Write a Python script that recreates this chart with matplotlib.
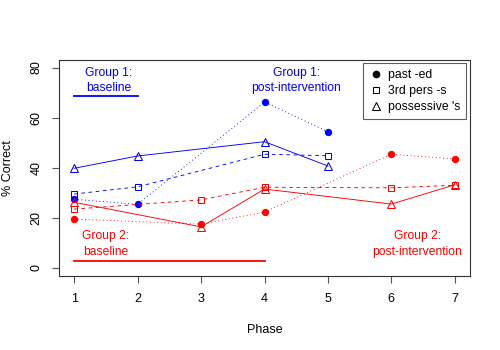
import numpy as np
import matplotlib
matplotlib.use("Agg")
import matplotlib.pyplot as plt
from matplotlib.lines import Line2D

plt.rcParams['font.family'] = ['Liberation Sans', 'DejaVu Sans']

# Data
g1_phase = [1, 2, 4, 5]
g1_past_ed = [27.4, 25.4, 66.2, 54.4]
g1_third = [29.5, 32.4, 45.4, 44.8]
g1_poss = [39.8, 44.7, 50.4, 40.7]

g2_phase = [1, 3, 4, 6, 7]
g2_past_ed = [19.5, 17.5, 22.3, 45.4, 43.5]
g2_third = [23.5, 27.2, 32.2, 32.0, 33.0]
g2_poss = [26.2, 16.4, 31.5, 25.5, 33.2]

x_ticks = [1, 2, 3, 4, 5, 6, 7]
y_ticks = [0, 20, 40, 60, 80]
legend_labels = ["past -ed", "3rd pers -s", "possessive 's"]

fig = plt.figure(figsize=(5, 3.5), dpi=100)
ax = fig.add_axes([59/500, (350-276)/350, (470-59)/500, (276-59.5)/350])

lw = 0.65
mew = 0.75
dash = (0, (4, 4))
dot = (0, (1, 3))

def series(x, y, color, ls, marker, filled, ms):
    ax.plot(x, y, color=color, lw=lw, linestyle=ls, marker=marker, ms=ms,
            mfc=color if filled else 'none', mec=color, mew=mew)

for col, ph, pe, th, po in [("blue", g1_phase, g1_past_ed, g1_third, g1_poss),
                            ("red", g2_phase, g2_past_ed, g2_third, g2_poss)]:
    series(ph, pe, col, dot, 'o', True, 4.5)
    series(ph, th, col, dash, 's', False, 5)
    series(ph, po, col, '-', '^', False, 6)

ax.set_xlim(0.76, 7.24)
ax.set_ylim(-3.2, 83.2)
ax.set_xticks(x_ticks)
ax.set_yticks(y_ticks)
ax.set_yticklabels([str(v) for v in y_ticks], rotation=90, va='center')
ax.tick_params(direction='out', length=5, width=0.8, color='#555555', labelsize=9, pad=7)
for s in ax.spines.values():
    s.set_color('#333333')
    s.set_linewidth(0.8)
ax.set_xlabel("Phase", fontsize=9, labelpad=14)
ax.set_ylabel("% Correct", fontsize=9, labelpad=12)

# Annotations
fs = 8.7
ls_txt = 1.4
ax.text(1.55, 74.8, "Group 1:\nbaseline", color="blue", ha='center', va='center', fontsize=fs, linespacing=ls_txt)
ax.plot([1, 2], [68.7, 68.7], color="blue", lw=1.3)
ax.text(4.5, 74.8, "Group 1:\npost-intervention", color="blue", ha='center', va='center', fontsize=fs, linespacing=ls_txt)
ax.text(1.5, 9.5, "Group 2:\nbaseline", color="red", ha='center', va='center', fontsize=fs, linespacing=ls_txt)
ax.plot([1, 4], [2.8, 2.8], color="red", lw=1.3)
ax.text(6.41, 9.5, "Group 2:\npost-intervention", color="red", ha='center', va='center', fontsize=fs, linespacing=ls_txt)

handles = [Line2D([], [], ls='none', marker='o', color='black', ms=4.5),
           Line2D([], [], ls='none', marker='s', mfc='none', mec='black', ms=5, mew=mew),
           Line2D([], [], ls='none', marker='^', mfc='none', mec='black', ms=6, mew=mew)]
leg = ax.legend(handles, legend_labels, loc='upper right', fontsize=8.8, frameon=True,
                fancybox=False, edgecolor='#333333', handlelength=1.0, handletextpad=0.5,
                borderaxespad=0.3, labelspacing=0.32, borderpad=0.5)
leg.get_frame().set_linewidth(0.8)

fig.savefig("out.png", dpi=100)
